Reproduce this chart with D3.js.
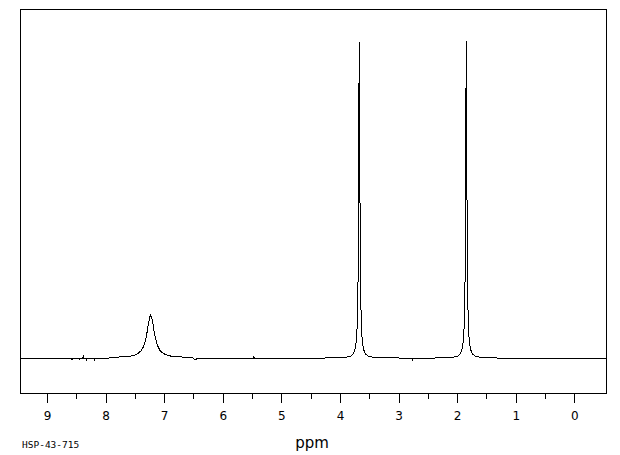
<!DOCTYPE html>
<head>
    <meta charset="utf-8">
    <style>
        body{
            margin:0;
            background:white;
        }
        svg{
            background-color:white;
            display:block;
        }
        .trace{
            fill:none;
            stroke:#000;
            stroke-width:1;
            shape-rendering:crispEdges;
        }
        .tick line{
            stroke:#000;
            shape-rendering:crispEdges;
        }
        .tick text{
            font-family:"DejaVu Sans", sans-serif;
            font-size:12px;
            fill:#000;
        }
    </style>
</head>
<body>
<script src="https://cdn.jsdelivr.net/npm/d3@7"></script>
<script>

// chemical shift (ppm), intensity (% of tallest peak)
const baselinePts = [
    [9.46, 0], [8.59, 0], [8.568, -0.5], [8.55, 0], [8.46, 0], [8.448, -0.5], [8.43, 0],
    [8.39, 0], [8.38, 0.6], [8.37, 0], [8.33, 0], [8.322, -0.5], [8.31, 0],
    [8.20, 0], [8.19, -0.5], [8.18, 0], [7.95, 0],
    [6.50, 0], [6.49, -0.3], [5.48, 0], [5.47, 0.5], [5.46, 0], [4.30, 0],
    [2.90, 0], [2.77, 0], [2.76, -0.6], [2.75, 0], [2.40, 0],
    [1.30, 0], [-0.54, 0]
];

const peakArom = [
    [7.90, 0.2], [7.83, 0.3], [7.68, 0.4], [7.55, 0.7], [7.48, 1.1], [7.43, 1.7],
    [7.39, 2.4], [7.36, 3.4], [7.33, 4.9], [7.31, 6.4], [7.29, 8.3], [7.27, 10.6],
    [7.25, 12.7], [7.23, 13.6], [7.21, 12.7], [7.19, 10.6], [7.17, 8.3],
    [7.15, 6.4], [7.13, 4.9], [7.10, 3.4], [7.07, 2.4], [7.03, 1.7], [6.98, 1.1],
    [6.91, 0.7], [6.78, 0.4], [6.63, 0.3], [6.55, 0.2]
];

const peakOMe = [
    [4.10, 0.1], [3.92, 0.2], [3.82, 0.6], [3.77, 1.4], [3.74, 2.9], [3.72, 5.4],
    [3.705, 10.4], [3.695, 18.6], [3.688, 30.6], [3.682, 49.8], [3.678, 68.7],
    [3.674, 89.6], [3.67, 99.5], [3.666, 89.6], [3.662, 68.7], [3.658, 49.8],
    [3.652, 30.6], [3.645, 18.6], [3.635, 10.4], [3.62, 5.4], [3.60, 2.9],
    [3.57, 1.4], [3.52, 0.6], [3.42, 0.2], [3.25, 0.1]
];

const peakMe = [
    [2.28, 0.1], [2.09, 0.2], [1.994, 0.6], [1.944, 1.4], [1.914, 2.9], [1.894, 5.4],
    [1.879, 10.4], [1.869, 18.6], [1.862, 30.6], [1.856, 49.8], [1.852, 68.7],
    [1.848, 89.6], [1.844, 100], [1.840, 89.6], [1.836, 68.7], [1.832, 49.8],
    [1.826, 30.6], [1.819, 18.6], [1.809, 10.4], [1.794, 5.4], [1.774, 2.9],
    [1.744, 1.4], [1.694, 0.6], [1.594, 0.2], [1.40, 0.1]
];

const majorTicks = [9, 8, 7, 6, 5, 4, 3, 2, 1, 0];
const minorTicks = [8.5, 7.5, 6.5, 5.5, 4.5, 3.5, 2.5, 1.5, 0.5];
const xTitle = 'ppm';
const sampleCode = 'HSP-43-715';

const width = 620;
const height = 455;
const frame = {left: 20, top: 9, right: 606, bottom: 393};

const svg = d3.select('body').append('svg')
    .attr('width', width)
    .attr('height', height);

const x = d3.scaleLinear()
    .domain([9.46, -0.54])
    .range([frame.left, frame.right]);

const y = d3.scaleLinear()
    .domain([-11, 110])
    .range([frame.bottom, frame.top]);

svg.append('clipPath')
    .attr('id', 'plotClip')
    .append('rect')
        .attr('x', frame.left)
        .attr('y', frame.top)
        .attr('width', frame.right - frame.left)
        .attr('height', frame.bottom - frame.top);

// spectrum trace
const points = [...baselinePts, ...peakArom, ...peakOMe, ...peakMe]
    .sort((a, b) => b[0] - a[0]);

const line = d3.line()
    .x(d => x(d[0]))
    .y(d => y(d[1]));

svg.append('path')
    .datum(points)
    .attr('class', 'trace')
    .attr('clip-path', 'url(#plotClip)')
    .attr('d', line);

// frame
svg.append('rect')
    .attr('x', frame.left + 0.5)
    .attr('y', frame.top + 0.5)
    .attr('width', frame.right - frame.left)
    .attr('height', frame.bottom - frame.top)
    .style('fill', 'none')
    .style('stroke', '#000')
    .style('stroke-width', 1)
    .style('shape-rendering', 'crispEdges');

// ticks
const minorAxis = svg.append('g')
    .attr('transform', `translate(0, ${frame.bottom + 1})`)
    .call(d3.axisBottom(x).tickValues(minorTicks).tickSize(5).tickFormat(''));
minorAxis.select('.domain').remove();

const majorAxis = svg.append('g')
    .attr('transform', `translate(0, ${frame.bottom + 1})`)
    .call(d3.axisBottom(x).tickValues(majorTicks).tickSize(9).tickPadding(8).tickFormat(d3.format('d')));
majorAxis.select('.domain').remove();
majorAxis.selectAll('text')
    .style('font-family', '"DejaVu Sans", sans-serif')
    .style('font-size', '12px');

svg.append('text')
    .attr('x', 312)
    .attr('y', 447.5)
    .attr('text-anchor', 'middle')
    .style('font-family', '"DejaVu Sans", sans-serif')
    .style('font-size', '15px')
    .text(xTitle);

svg.append('text')
    .attr('x', 22)
    .attr('y', 447.5)
    .style('font-family', '"DejaVu Sans Mono", monospace')
    .style('font-size', '9.5px')
    .text(sampleCode);

</script>
</body>
</html>
